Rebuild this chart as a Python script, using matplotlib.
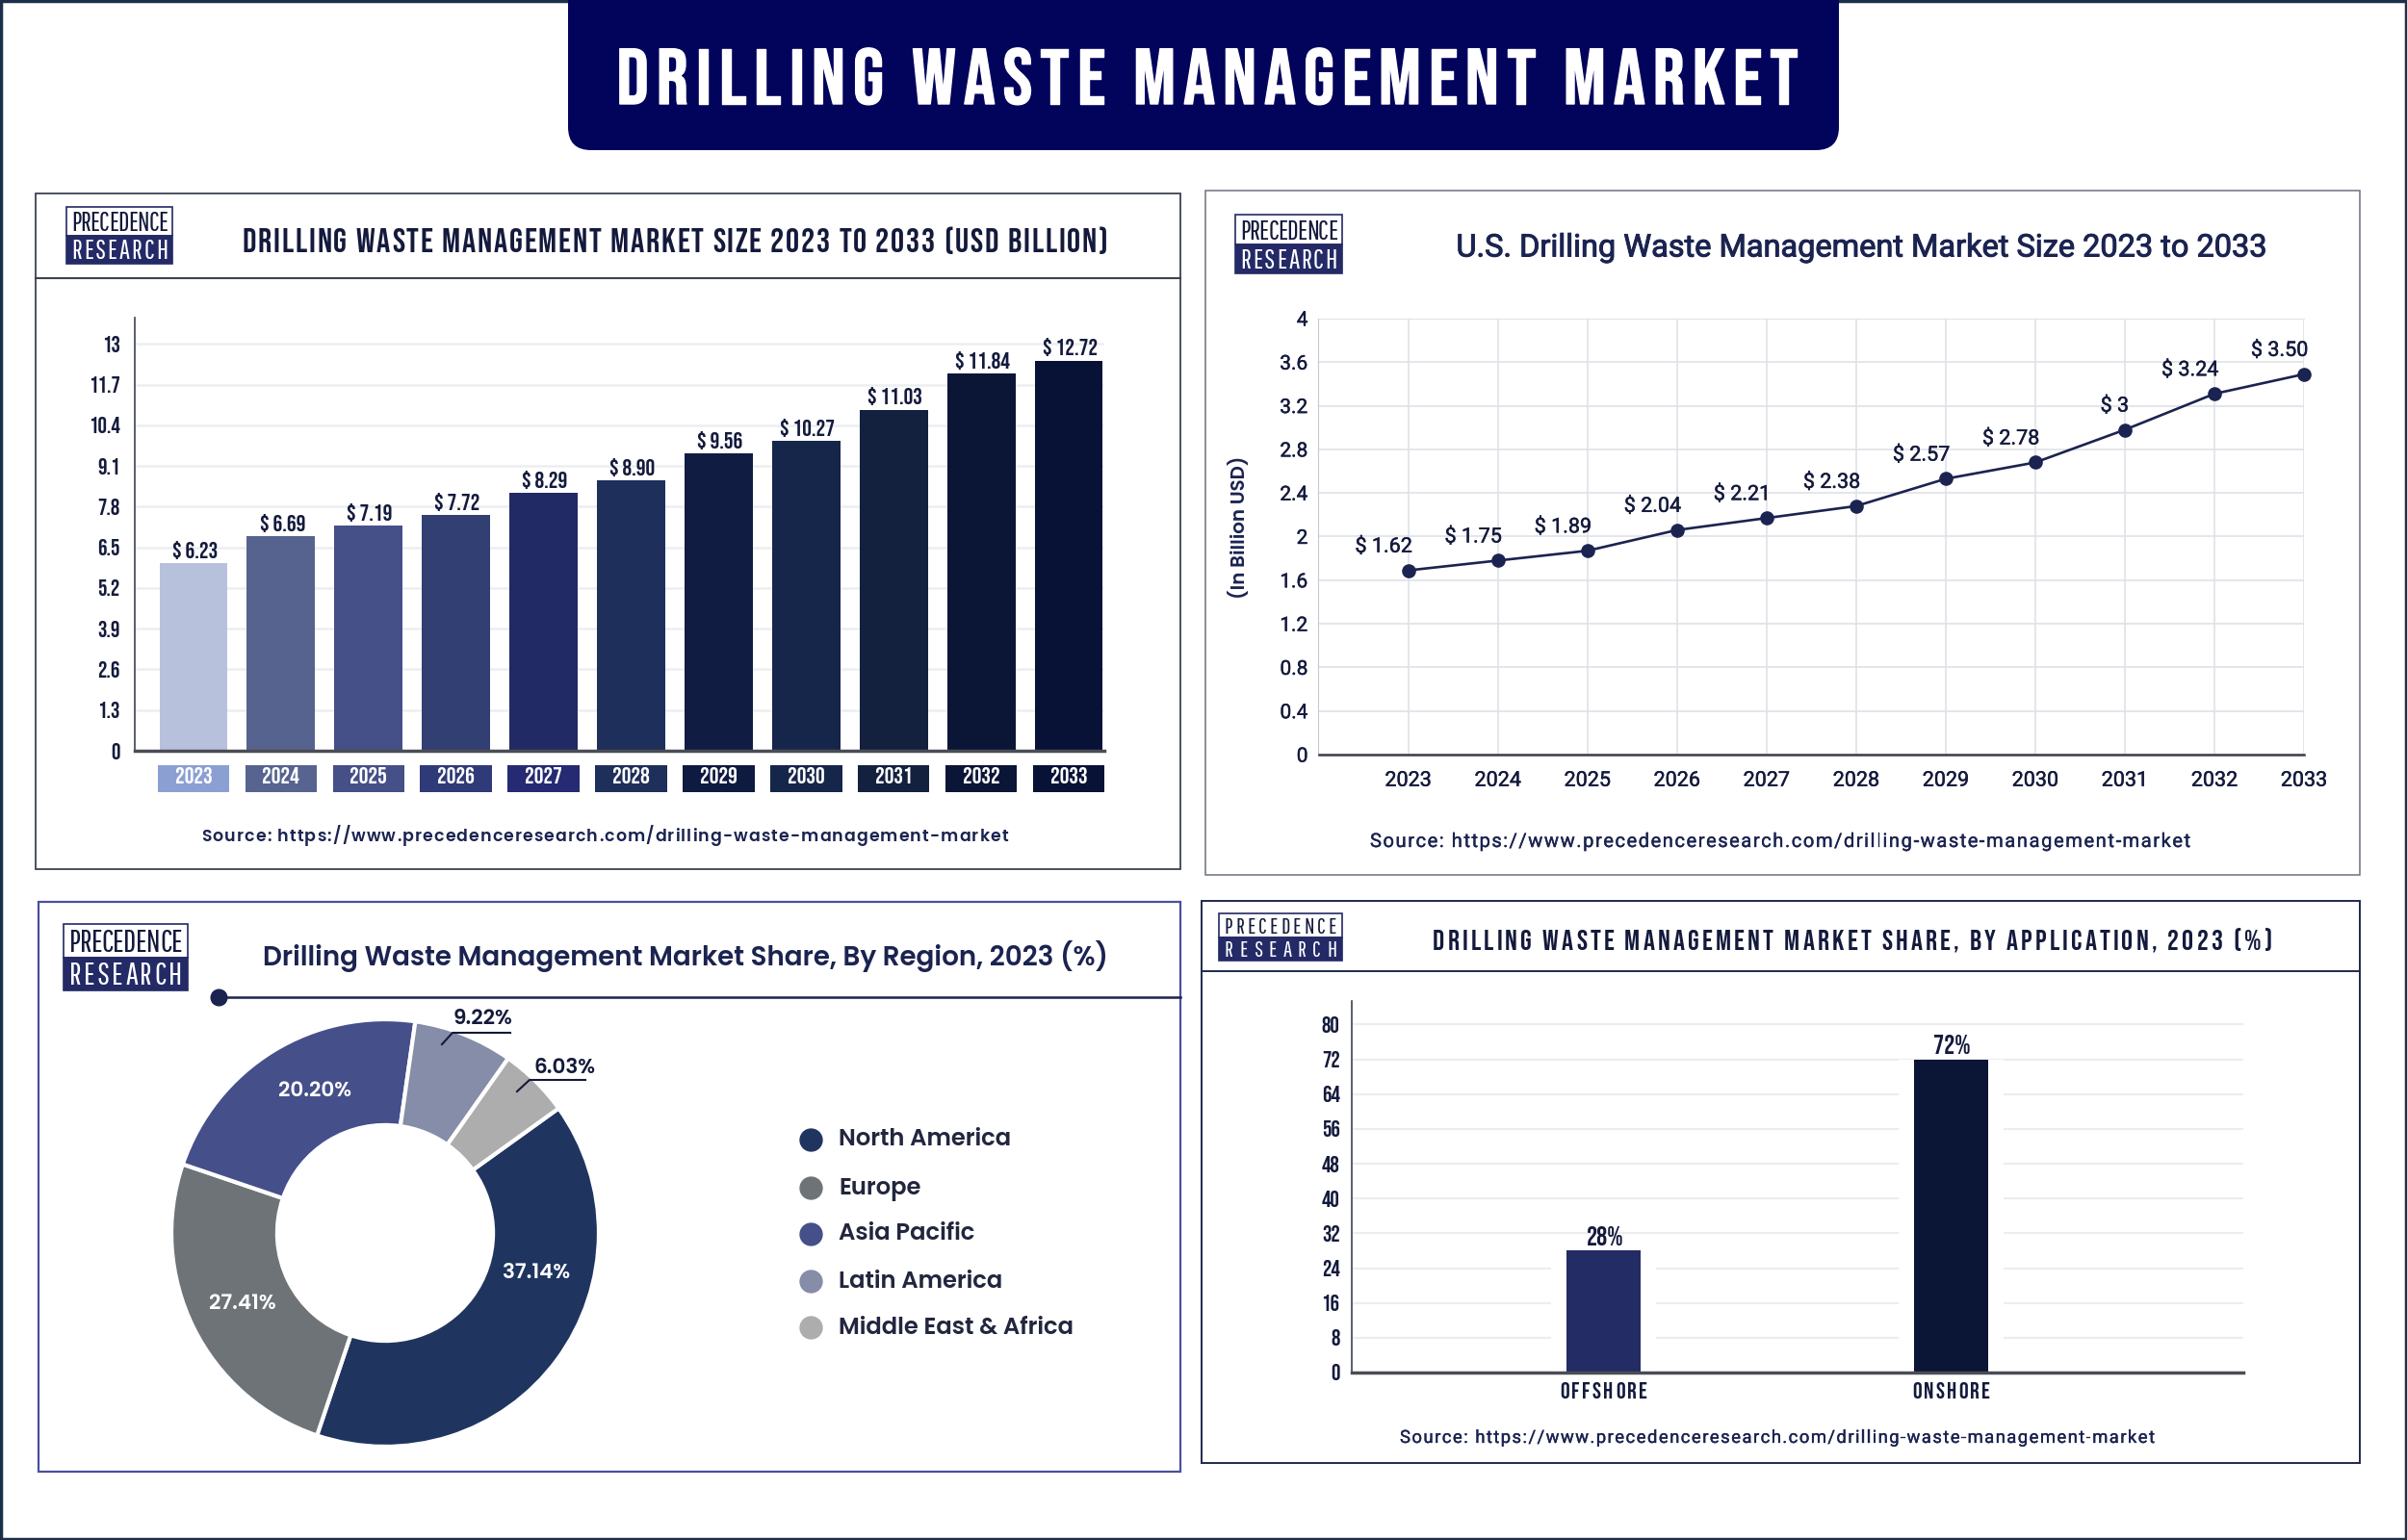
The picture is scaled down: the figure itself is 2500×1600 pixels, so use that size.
import matplotlib
matplotlib.use('Agg')
import matplotlib.pyplot as plt
import matplotlib.patheffects as pe
from matplotlib.patches import Rectangle, FancyBboxPatch
from matplotlib.text import Text
from matplotlib.transforms import IdentityTransform, Bbox

W, H = 2500, 1600
NAVY = '#1b2350'
INK = '#141a3c'
BANNER = '#02045c'

# fonts
BEBAS = ['Bebas Neue', 'Liberation Sans Narrow', 'DejaVu Sans']
THIN = ['Pathway Gothic One', 'Bebas Neue', 'Liberation Sans Narrow', 'DejaVu Sans']
GEO = ['Poppins', 'Open Sans', 'DejaVu Sans']
ROBOTO = ['Roboto', 'DejaVu Sans']

# ── Data ──────────────────────────────────────────────────────────────────────

years = ['2023', '2024', '2025', '2026', '2027', '2028', '2029', '2030', '2031', '2032', '2033']

# bar heights as drawn against the axis, the printed labels differ a little
size_heights = [6.0, 6.86, 7.2, 7.52, 8.24, 8.63, 9.5, 9.9, 10.9, 12.06, 12.47]
size_labels = ['$ 6.23', '$ 6.69', '$ 7.19', '$ 7.72', '$ 8.29', '$ 8.90', '$ 9.56',
               '$ 10.27', '$ 11.03', '$ 11.84', '$ 12.72']
size_ticks = [0, 1.3, 2.6, 3.9, 5.2, 6.5, 7.8, 9.1, 10.4, 11.7, 13]
size_ticklabels = ['0', '1.3', '2.6', '3.9', '5.2', '6.5', '7.8', '9.1', '10.4', '11.7', '13']
size_colors = ['#b8c1dc', '#55638e', '#454f88', '#323f72', '#222a66', '#1e2f5c',
               '#101c42', '#16264a', '#13213f', '#0b1536', '#081236']
year_box_colors = ['#8c9fd2', '#56648f', '#454f88', '#2f3a78', '#252a72', '#1e2f5a',
                   '#0f1a40', '#16264a', '#13213f', '#0b1536', '#081236']

us_values = [1.69, 1.78, 1.87, 2.06, 2.17, 2.28, 2.53, 2.68, 2.98, 3.31, 3.49]
us_labels = ['$ 1.62', '$ 1.75', '$ 1.89', '$ 2.04', '$ 2.21', '$ 2.38', '$ 2.57',
             '$ 2.78', '$ 3', '$ 3.24', '$ 3.50']
us_ticks = [0, 0.4, 0.8, 1.2, 1.6, 2, 2.4, 2.8, 3.2, 3.6, 4]
us_ticklabels = ['0', '0.4', '0.8', '1.2', '1.6', '2', '2.4', '2.8', '3.2', '3.6', '4']

regions = ['North America', 'Europe', 'Asia Pacific', 'Latin America', 'Middle East & Africa']
region_shares = [40.0, 25.0, 22.0, 7.5, 5.3]
region_colors = ['#1f3560', '#6e7378', '#454f8a', '#858da8', '#adadad']
region_labels = ['37.14%', '27.41%', '20.20%', '9.22%', '6.03%']

applications = ['OFFSHORE', 'ONSHORE']
app_values = [28, 72]
app_labels = ['28%', '72%']
app_colors = ['#232c64', '#0b1536']
app_ticks = [0, 8, 16, 24, 32, 40, 48, 56, 64, 72, 80]

SOURCE = 'Source: https://www.precedenceresearch.com/drilling-waste-management-market'


# ── Helpers ───────────────────────────────────────────────────────────────────

class SpacedText(Text):
    """Text stretched to a target width by letter spacing, anchored at its centre."""

    def __init__(self, x, y, s, width, **kw):
        super().__init__(x, y, s, ha='center', va='baseline', **kw)
        self.target_width = width

    def draw(self, renderer):
        fp = self.get_fontproperties()
        measure = lambda t: renderer.get_text_width_height_descent(t, fp, False)[0]
        base = measure('HH')
        adv = [measure(f'H{c}H') - base for c in self.get_text()]
        gap = (self.target_width - sum(adv)) / (len(adv) - 1)
        x0, y0 = self.get_transform().transform(self.get_position())
        x = x0 - self.target_width / 2
        for c, a in zip(self.get_text(), adv):
            t = Text(x, y0, c, ha='left', va='baseline', color=self.get_color(),
                     fontproperties=fp, transform=IdentityTransform(),
                     path_effects=self.get_path_effects())
            t.set_figure(self.get_figure())
            t.draw(renderer)
            x += a + gap

    def get_window_extent(self, renderer=None, dpi=None):
        bb = super().get_window_extent(renderer, dpi)
        x0, _ = self.get_transform().transform(self.get_position())
        return Bbox.from_extents(x0 - self.target_width / 2, bb.y0, x0 + self.target_width / 2, bb.y1)


def px_axes(left, top, right, bottom):
    ax = fig.add_axes([left / W, 1 - bottom / H, (right - left) / W, (bottom - top) / H])
    ax.patch.set_alpha(0)
    return ax


def thick(w, color):
    return [pe.withStroke(linewidth=w, foreground=color)]


def spaced(x, y, s, width, size, color=INK, family=BEBAS, stroke=0.0, on=None, **kw):
    t = SpacedText(x, y, s, width, color=color, family=family, fontsize=size, **kw)
    if stroke:
        t.set_path_effects(thick(stroke, color))
    (on or ov).add_artist(t)
    return t


def panel(x0, y0, x1, y1, color, lw=1.3):
    ov.add_patch(Rectangle((x0, y0), x1 - x0, y1 - y0, fc='white', ec=color, lw=lw))


def logo(x0, y0, w, h):
    ov.add_patch(Rectangle((x0, y0), w, h * 0.51, fc='white', ec='#232a66', lw=1.2))
    ov.add_patch(Rectangle((x0, y0 + h * 0.51), w, h * 0.49, fc='#232a66', ec='#232a66', lw=1.2))
    size = h * 0.34
    spaced(x0 + w / 2, y0 + h * 0.42, 'PRECEDENCE', w * 0.91, size, family=THIN)
    spaced(x0 + w / 2, y0 + h * 0.91, 'RESEARCH', w * 0.91, size, color='white', family=THIN)


fig = plt.figure(figsize=(W / 100, H / 100), dpi=100, facecolor='white')
ov = fig.add_axes([0, 0, 1, 1])
ov.set_xlim(0, W)
ov.set_ylim(H, 0)
ov.axis('off')

# outer border and top banner
ov.add_patch(Rectangle((1, 1), W - 2, H - 2, fc='white', ec='#1c2f4a', lw=2.5))
ov.add_patch(FancyBboxPatch((590, -60), 1320, 216, boxstyle='round,pad=0,rounding_size=24',
                            fc=BANNER, ec='none'))
spaced(1254, 108, 'DRILLING WASTE MANAGEMENT MARKET', 1227, 59, color='white', stroke=1.0)

# ── Panel 1: market size bars ─────────────────────────────────────────────────

panel(37, 201, 1226, 903, '#3c4350')
ov.plot([37, 1226], [289, 289], color='#3c4350', lw=1.5)
logo(69, 215, 110, 59)
spaced(701, 262, 'DRILLING WASTE MANAGEMENT MARKET SIZE 2023 TO 2033 (USD BILLION)', 899, 25.5)
spaced(628, 874, SOURCE, 838, 12.5, color=NAVY, family=GEO, fontweight='semibold')

ax = px_axes(140, 330, 1147, 780)
x = list(range(len(years)))
ax.bar(x, size_heights, 0.78, color=size_colors, zorder=2)
ax.set_xlim(-0.671, 10.407)
ax.set_ylim(0, 13.84)
ax.set_yticks(size_ticks)
ax.set_yticklabels(size_ticklabels, family=BEBAS, fontsize=17, color=INK)
ax.set_xticks(x)
ax.set_xticklabels(years, family=BEBAS, fontsize=17.5, color='white')
ax.tick_params(axis='both', length=0)
ax.tick_params(axis='x', pad=12)
ax.tick_params(axis='y', pad=11)
ax.set_axisbelow(True)
ax.grid(axis='y', color='#eceef1', lw=1.8)
for s in ['top', 'right']:
    ax.spines[s].set_visible(False)
ax.spines['left'].set_color('#3c4350')
ax.spines['left'].set_linewidth(1.2)
ax.spines['bottom'].set_color('#4a4d55')
ax.spines['bottom'].set_linewidth(2.5)
for i, c in enumerate(year_box_colors):
    ax.add_patch(Rectangle((i - 0.41, -0.0955), 0.82, 0.0622, transform=ax.get_xaxis_transform(),
                           fc=c, ec='none', clip_on=False, zorder=0.4))
for i, (h, lab) in enumerate(zip(size_heights, size_labels)):
    ax.annotate(lab, (i, h), xytext=(1, 3), textcoords='offset points', ha='center', va='bottom',
                family=BEBAS, fontsize=17.5, color=INK)

# ── Panel 2: U.S. line ────────────────────────────────────────────────────────

panel(1252, 198, 2451, 909, '#6c7280', lw=1.1)
logo(1283, 223, 111, 61)
ov.text(1934, 258, 'U.S. Drilling Waste Management Market Size 2023 to 2033', ha='center', va='center',
        fontsize=23.4, family=ROBOTO, color=NAVY, path_effects=thick(0.7, NAVY))
spaced(1849, 880, SOURCE, 852, 14.5, color=NAVY, family=ROBOTO, stroke=0.25)

ax = px_axes(1369.5, 331, 2393, 784)
us_years = [int(y) for y in years]
ax.plot(us_years, us_values, color=NAVY, lw=1.9, marker='o', ms=9.5, zorder=3, clip_on=False)
ax.set_xlim(2022, 2033)
ax.set_ylim(0, 4)
ax.set_yticks(us_ticks)
ax.set_yticklabels(us_ticklabels, family=ROBOTO, fontsize=15, color=INK,
                   path_effects=thick(0.3, INK))
ax.set_xticks(us_years)
ax.set_xticklabels(years, family=ROBOTO, fontsize=15.5, color=INK, path_effects=thick(0.3, INK))
ax.tick_params(axis='both', length=0)
ax.tick_params(axis='x', pad=12)
ax.tick_params(axis='y', pad=8)
ax.grid(True, color='#dfe2e8', lw=1.2)
ax.set_axisbelow(True)
ax.spines['top'].set_color('#dfe2e8')
ax.spines['right'].set_visible(False)
ax.spines['left'].set_color('#c5c9d2')
ax.spines['bottom'].set_color('#3a3d48')
ax.spines['bottom'].set_linewidth(1.8)
for yr, v, lab in zip(us_years, us_values, us_labels):
    ax.annotate(lab, (yr, v), xytext=(3, 10), textcoords='offset points', ha='right', va='bottom',
                family=ROBOTO, fontsize=15.5, color=INK, path_effects=thick(0.3, INK))
ov.text(1287, 548, '(In Billion USD)', rotation=90, ha='center', va='center', fontsize=14.3,
        family=GEO, fontweight='semibold', color=NAVY)

# ── Panel 3: region donut ─────────────────────────────────────────────────────

panel(40, 937, 1226, 1529, '#4a4fa0', lw=1.6)
logo(66, 960, 129, 69)
ov.text(712, 993, 'Drilling Waste Management Market Share, By Region, 2023 (%)', ha='center',
        va='center', fontsize=20, family=GEO, fontweight='semibold', color=NAVY)
ov.plot([227, 1226], [1036, 1036], color=NAVY, lw=1.8)
ov.plot([227], [1036], 'o', color=NAVY, ms=12)

ax = px_axes(170, 1051, 630, 1511)
ax.pie(region_shares, colors=region_colors, startangle=35.7, counterclock=False, radius=1.0,
       wedgeprops=dict(width=0.495, edgecolor='white', linewidth=3))
ax.set_xlim(-229 / 221, 229 / 221)
ax.set_ylim(-229 / 221, 229 / 221)

# labels and leaders sit above the wedges
top = fig.add_axes([0, 0, 1, 1])
top.set_xlim(0, W)
top.set_ylim(H, 0)
top.axis('off')
top.plot([530, 470, 459], [1073, 1073, 1085], color='#14193a', lw=1.5)
top.plot([608, 550, 537], [1122, 1122, 1134], color='#14193a', lw=1.5)
label_colors = ['white', 'white', 'white', INK, INK]
label_xy = [(557, 1323), (252, 1355), (327, 1134), (501, 1059), (586, 1110)]
for (tx, ty), lab, c in zip(label_xy, region_labels, label_colors):
    top.text(tx, ty, lab, ha='center', va='center', color=c, fontsize=15.5, family=GEO,
             fontweight='semibold')
for ly, name, c in zip([1184, 1234, 1282, 1331, 1379], regions, region_colors):
    ov.plot([842], [ly], 'o', color=c, ms=16.5)
    ov.text(871, ly + 1, name, ha='left', va='center', fontsize=17.5, family=GEO,
            fontweight='semibold', color='#22263e')

# ── Panel 4: application bars ─────────────────────────────────────────────────

panel(1248, 936, 2451, 1520, '#1f2a4a', lw=1.4)
ov.plot([1248, 2451], [1009, 1009], color='#1f2a4a', lw=1.4)
logo(1266, 949, 128, 49)
spaced(1924, 987, 'DRILLING WASTE MANAGEMENT MARKET SHARE, BY APPLICATION, 2023 (%)', 872, 21.5)
spaced(1846, 1499, SOURCE, 784, 13.3, color=NAVY, family=ROBOTO, stroke=0.25)

ax = px_axes(1404, 1040, 2330, 1426)
x = [0, 1]
ax.bar(x, app_values, 0.30, color='white', zorder=1.5)
ax.bar(x, app_values, 0.213, color=app_colors, zorder=2)
ax.set_xlim(-0.724, 1.841)
ax.set_ylim(0, 85.4)
ax.set_yticks(app_ticks)
ax.set_yticklabels(app_ticks, family=BEBAS, fontsize=17, color=INK)
ax.set_xticks(x)
ax.set_xticklabels([])
ax.tick_params(axis='both', length=0)
ax.tick_params(axis='y', pad=9)
ax.set_axisbelow(True)
ax.grid(axis='y', color='#ecedf0', lw=1.6)
for s in ['top', 'right']:
    ax.spines[s].set_visible(False)
ax.spines['left'].set_color('#3c4350')
ax.spines['left'].set_linewidth(1.2)
ax.spines['bottom'].set_color('#4a4d55')
ax.spines['bottom'].set_linewidth(2.5)
for i, (name, tw) in enumerate(zip(applications, [91, 81])):
    spaced(i, -0.069, name, tw, 17.5, on=ax, transform=ax.get_xaxis_transform())
for i, (v, lab) in enumerate(zip(app_values, app_labels)):
    ax.annotate(lab, (i, v), xytext=(1, 4), textcoords='offset points', ha='center', va='bottom',
                family=BEBAS, fontsize=20, color=INK)

fig.savefig('out.png', dpi=100)
